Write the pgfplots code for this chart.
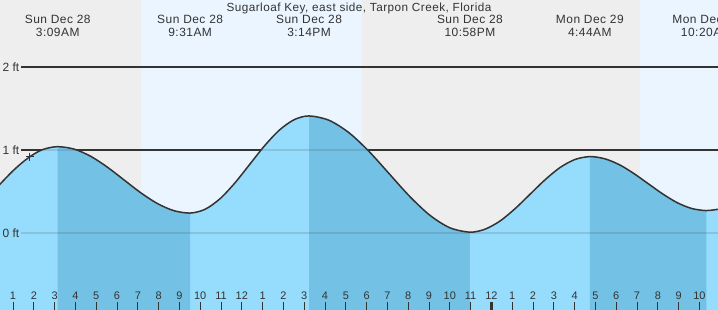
\documentclass[border=0pt]{standalone}
\usepackage{pgfplots}
\pgfplotsset{compat=1.18}
\usepackage{pgfplotstable}
\usepackage{fontspec}
\setmainfont{Liberation Sans}
\newfontfamily\lsfont{Liberation Sans}[LetterSpace=4]
\definecolor{textgray}{RGB}{51,51,51}
\definecolor{nightbg}{RGB}{238,238,238}
\definecolor{daybg}{RGB}{234,245,255}
\definecolor{lightwater}{RGB}{150,220,253}
\definecolor{darkwater}{RGB}{115,194,230}
\pgfplotstableread{
h ft
0.0 0.486
0.5 0.621
1.0 0.749
1.5 0.860
2.0 0.950
2.5 1.011
3.15 1.04
3.946 1.01
4.742 0.923
5.538 0.793
6.334 0.64
7.129 0.487
7.925 0.357
8.721 0.270
9.517 0.24
10.232 0.285
10.946 0.411
11.661 0.601
12.375 0.825
13.090 1.049
13.804 1.239
14.519 1.365
15.233 1.41
16.200 1.357
17.167 1.205
18.133 0.978
19.100 0.71
20.067 0.442
21.034 0.215
22.000 0.063
22.967 0.01
23.688 0.045
24.409 0.143
25.129 0.291
25.850 0.465
26.571 0.639
27.291 0.787
28.012 0.885
28.733 0.92
29.433 0.895
30.133 0.825
30.833 0.719
31.533 0.595
32.233 0.471
32.933 0.365
33.633 0.295
34.333 0.27
35.0 0.29
}\tide
\pgfplotstableread{
h ft
3.15 1.04
3.946 1.01
4.742 0.923
5.538 0.793
6.334 0.64
7.129 0.487
7.925 0.357
8.721 0.270
9.517 0.24
}\fallA
\pgfplotstableread{
h ft
15.233 1.41
16.200 1.357
17.167 1.205
18.133 0.978
19.100 0.71
20.067 0.442
21.034 0.215
22.000 0.063
22.967 0.01
}\fallB
\pgfplotstableread{
h ft
28.733 0.92
29.433 0.895
30.133 0.825
30.833 0.719
31.533 0.595
32.233 0.471
32.933 0.365
33.633 0.295
34.333 0.27
}\fallC
\begin{document}
\begin{tikzpicture}
\begin{axis}[
  at={(0,0)}, anchor=south west,
  width=718bp, height=310bp, scale only axis,
  xmin=0.375, xmax=34.894, ymin=-0.928, ymax=2.807,
  axis line style={draw=none},
  axis on top=true,
  ytick=\empty,
  xtick={1,2,3,4,5,6,7,8,9,10,11,12,13,14,15,16,17,18,19,20,21,22,23,24,25,26,27,28,29,30,31,32,33,34,35},
  xticklabels={1,2,3,4,5,6,7,8,9,10,11,12,1,2,3,4,5,6,7,8,9,10,11,12,1,2,3,4,5,6,7,8,9,10,11},
  xtick pos=left,
  tick align=inside,
  major tick length=8bp,
  tick style={draw=textgray, line width=0.9bp},
  xticklabel style={anchor=center, yshift=14bp, text=textgray, font=\fontsize{11}{12}\selectfont},
  extra x ticks={24},
  extra x tick labels={},
  extra x tick style={tick style={line width=3bp}},
]
% day / night background
\addplot[draw=none, fill=nightbg] coordinates {(0,-0.928)(0,2.807)(7.154,2.807)(7.154,-0.928)} -- cycle;
\addplot[draw=none, fill=daybg] coordinates {(7.154,-0.928)(7.154,2.807)(17.78,2.807)(17.78,-0.928)} -- cycle;
\addplot[draw=none, fill=nightbg] coordinates {(17.78,-0.928)(17.78,2.807)(31.13,2.807)(31.13,-0.928)} -- cycle;
\addplot[draw=none, fill=daybg] coordinates {(31.13,-0.928)(31.13,2.807)(36,2.807)(36,-0.928)} -- cycle;
% level lines
\addplot[textgray, line width=1.2bp] coordinates {(1.385,2)(36,2)};
\addplot[textgray, line width=1.2bp] coordinates {(1.385,1)(36,1)};
\node[anchor=west, inner sep=0pt, text=textgray, font=\fontsize{12}{13}\selectfont] at (axis cs:0.495,2) {2 ft};
\node[anchor=west, inner sep=0pt, text=textgray, font=\fontsize{12}{13}\selectfont] at (axis cs:0.495,1) {1 ft};
% water
\addplot[draw=none, fill=lightwater, smooth] table[x=h, y=ft] {\tide} -- (axis cs:35,-1) -- (axis cs:0,-1) -- cycle;
\addplot[draw=none, fill=darkwater, smooth] table[x=h, y=ft] {\fallA} -- (axis cs:9.517,-1) -- (axis cs:3.15,-1) -- cycle;
\addplot[draw=none, fill=darkwater, smooth] table[x=h, y=ft] {\fallB} -- (axis cs:22.967,-1) -- (axis cs:15.233,-1) -- cycle;
\addplot[draw=none, fill=darkwater, smooth] table[x=h, y=ft] {\fallC} -- (axis cs:34.333,-1) -- (axis cs:28.733,-1) -- cycle;
% level lines seen through the water
\addplot[textgray, line width=1.2bp, opacity=0.15] coordinates {(1.385,1)(36,1)};
\addplot[textgray, line width=1.2bp, opacity=0.15] coordinates {(1.385,0)(36,0)};
\node[anchor=west, inner sep=0pt, text=textgray, font=\fontsize{12}{13}\selectfont] at (axis cs:0.495,0) {0 ft};
% curve
\addplot[textgray, line width=1.5bp, smooth] table[x=h, y=ft] {\tide};
\addplot[textgray, only marks, mark=+, mark size=4bp, mark options={line width=1bp}] coordinates {(1.817,0.916)};
% title and events
\node[text=textgray, font=\lsfont\fontsize{11.8}{13}\selectfont] at (rel axis cs:0.5,0.974) {Sugarloaf Key, east side, Tarpon Creek, Florida};
\node[align=center, text=textgray, font=\lsfont\fontsize{12}{13}\selectfont] at (axis cs:3.15,2.494) {Sun Dec 28\\3:09AM};
\node[align=center, text=textgray, font=\lsfont\fontsize{12}{13}\selectfont] at (axis cs:9.517,2.494) {Sun Dec 28\\9:31AM};
\node[align=center, text=textgray, font=\lsfont\fontsize{12}{13}\selectfont] at (axis cs:15.233,2.494) {Sun Dec 28\\3:14PM};
\node[align=center, text=textgray, font=\lsfont\fontsize{12}{13}\selectfont] at (axis cs:22.967,2.494) {Sun Dec 28\\10:58PM};
\node[align=center, text=textgray, font=\lsfont\fontsize{12}{13}\selectfont] at (axis cs:28.733,2.494) {Mon Dec 29\\4:44AM};
\node[align=center, text=textgray, font=\lsfont\fontsize{12}{13}\selectfont] at (axis cs:34.333,2.494) {Mon Dec 29\\10:20AM};
\end{axis}
\pgfresetboundingbox
\useasboundingbox (0,0) rectangle (718bp,310bp);
\end{tikzpicture}
\end{document}
